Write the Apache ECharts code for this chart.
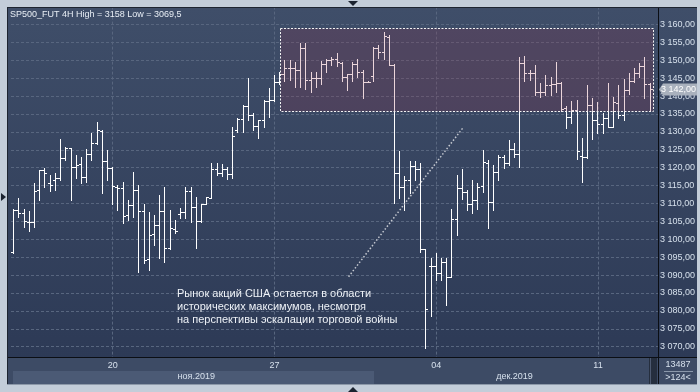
<!DOCTYPE html>
<html><head><meta charset="utf-8">
<script src="https://cdn.jsdelivr.net/npm/echarts@6/dist/echarts.min.js"></script>
<style>html,body{margin:0;padding:0;background:#c3cdd9;}#c{width:700px;height:392px;}</style>
</head><body><div id="c"></div>
<script>
// ---- data (4H bars, SP500 futures) ----
const opens  = [3096.5,3108.2,3107.4,3104.7,3104.9,3113.8,3119.4,3115.6,3116.6,3117.0,3122.6,3125.4,3120.3,3121.0,3117.5,3123.8,3126.8,3130.2,3121.9,3119.8,3114.7,3114.2,3106.8,3109.6,3113.8,3108.0,3094.4,3101.4,3104.0,3108.0,3097.5,3102.9,3107.2,3107.7,3113.5,3109.1,3105.1,3110.0,3111.6,3119.5,3118.4,3119.6,3118.3,3130.5,3133.5,3137.1,3134.7,3131.7,3133.3,3138.6,3138.9,3144.0,3146.3,3147.8,3147.8,3147.4,3153.3,3144.4,3145.0,3145.0,3148.9,3150.1,3150.3,3149.3,3145.3,3146.2,3149.0,3146.8,3144.0,3145.5,3153.3,3152.4,3156.6,3148.7,3118.4,3114.7,3116.6,3120.5,3119.5,3097.2,3092.5,3092.5,3090.5,3093.7,3089.6,3105.7,3114.2,3113.3,3109.9,3111.0,3115.0,3121.2,3110.5,3118.9,3123.1,3121.2,3125.1,3123.8,3149.2,3146.4,3146.4,3141.2,3141.2,3143.1,3143.3,3143.7,3136.6,3134.1,3136.1,3123.4,3123.1,3137.5,3133.3,3132.2,3133.8,3131.5,3138.2,3134.7,3141.7,3144.2,3146.4,3148.4,3143.3];
const highs  = [3108.4,3111.4,3108.6,3107.9,3115.6,3119.4,3119.8,3118.0,3118.4,3128.0,3125.7,3125.6,3123.5,3122.9,3125.1,3129.6,3132.8,3130.5,3124.9,3120.3,3115.2,3116.1,3111.0,3118.7,3115.2,3110.0,3107.7,3106.8,3112.4,3114.7,3108.2,3105.4,3108.8,3114.5,3114.7,3111.9,3110.0,3111.9,3121.2,3121.2,3121.0,3120.3,3131.4,3133.8,3137.5,3145.0,3135.2,3133.3,3138.9,3142.2,3145.9,3146.8,3150.0,3150.2,3149.6,3154.9,3154.9,3146.8,3146.8,3149.7,3150.4,3151.0,3152.0,3149.6,3146.3,3149.6,3150.3,3147.3,3144.3,3153.8,3154.2,3158.0,3157.0,3148.9,3124.7,3117.7,3121.9,3121.9,3121.2,3097.3,3094.7,3096.1,3094.7,3094.7,3108.6,3118.1,3119.5,3113.8,3116.6,3115.6,3124.9,3122.1,3120.8,3123.5,3123.5,3127.7,3126.8,3151.0,3151.2,3147.3,3148.7,3143.6,3145.9,3145.4,3149.6,3144.0,3137.1,3138.6,3138.9,3128.2,3143.1,3139.4,3138.4,3135.2,3143.6,3139.8,3143.1,3144.7,3146.4,3147.8,3149.3,3151.0,3143.6];
const lows   = [3096.1,3106.3,3103.5,3102.3,3103.5,3111.0,3114.7,3113.6,3113.8,3116.6,3122.1,3111.0,3117.0,3115.8,3116.1,3122.1,3126.6,3112.8,3116.6,3110.0,3108.2,3104.5,3105.4,3106.3,3091.0,3093.3,3091.4,3098.4,3094.7,3093.7,3097.3,3101.7,3105.9,3105.9,3104.9,3097.5,3104.9,3109.9,3111.4,3118.0,3117.8,3116.8,3117.0,3130.1,3130.1,3133.3,3130.5,3128.2,3131.5,3134.3,3138.7,3143.5,3144.2,3144.5,3142.5,3142.5,3142.0,3141.1,3142.6,3143.4,3146.6,3148.7,3148.5,3144.2,3141.7,3144.2,3145.4,3139.6,3143.8,3144.3,3150.6,3150.3,3148.7,3110.2,3111.4,3108.1,3113.0,3116.6,3096.5,3069.5,3078.5,3088.6,3088.6,3081.6,3089.4,3101.2,3111.3,3108.2,3107.3,3108.6,3113.3,3103.1,3108.2,3116.6,3119.8,3120.8,3122.9,3120.3,3144.3,3144.5,3140.3,3139.7,3140.3,3140.3,3141.2,3135.7,3131.0,3132.4,3122.3,3116.1,3122.6,3127.9,3129.6,3129.6,3131.3,3131.3,3133.8,3133.3,3140.5,3143.8,3145.4,3139.5,3136.0];
const closes = [3108.2,3107.4,3105.0,3104.7,3113.5,3119.4,3118.4,3115.2,3117.0,3122.6,3125.4,3120.3,3120.8,3117.5,3123.8,3126.8,3130.5,3121.9,3119.8,3114.9,3114.2,3106.6,3109.6,3113.8,3108.0,3094.2,3101.2,3104.0,3108.0,3097.5,3103.1,3102.3,3107.7,3113.5,3109.1,3105.1,3109.8,3111.9,3119.5,3118.4,3119.6,3118.3,3128.9,3133.5,3137.1,3134.7,3131.7,3133.3,3138.6,3138.9,3144.0,3146.3,3147.8,3147.8,3147.4,3153.3,3144.4,3145.0,3145.0,3148.9,3150.1,3150.3,3149.5,3145.3,3146.2,3149.1,3146.6,3144.0,3144.0,3153.3,3152.4,3156.8,3148.7,3118.4,3114.7,3116.6,3120.5,3119.5,3097.3,3080.4,3092.5,3090.5,3093.7,3089.6,3105.7,3114.2,3113.3,3109.9,3111.0,3114.5,3121.5,3110.5,3118.9,3123.1,3121.2,3125.1,3123.8,3149.2,3146.4,3146.4,3141.2,3141.2,3143.1,3143.3,3143.7,3136.3,3134.1,3136.1,3124.7,3123.1,3137.5,3133.3,3132.2,3133.8,3131.5,3138.4,3134.7,3141.7,3144.2,3146.4,3148.4,3143.5,3142.0];
const slotCount = 124;                       // visible bar slots (">124<")
const dateTickIndex = [19, 50, 81, 112];
const dateTickLabel = ['20', '27', '04', '11'];
const monthIndex = [35, 96];
const monthLabel = ['ноя.2019', 'дек.2019'];
const yMin = 3065, yMax = 3165, yStep = 5;
const boxX = [51, 122.4], boxY = [3159.1, 3135.8];     // highlighted range
const trendX = [64.2, 86.2], trendY = [3089.55, 3131.3]; // dotted trend line
const titleText = 'SP500_FUT 4H High = 3158 Low = 3069,5';
const noteText = 'Рынок акций США остается в области\nисторических максимумов, несмотря\nна перспективы эскалации торговой войны';
const barCountText = '13487', visibleText = '>124<';

const categories = Array.from({length: slotCount}, (_, i) => String(i));
const ohlc = opens.map((o, i) => [i, o, highs[i], lows[i], closes[i]]);
const FONT = '"Liberation Sans", Arial, sans-serif';
const LBL = '#d6e0ec';
const LIGHT = '#c3cdd9';

function fmtPrice(v) {
  const s = v.toFixed(2).split('.');
  return s[0].replace(/\B(?=(\d{3})+(?!\d))/g, ' ') + ',' + s[1];
}
function px(api, xv, yv) {
  const k = Math.floor(xv);
  const p = api.coord([k, yv]);
  return [p[0] + (xv - k) * api.size([1, 0])[0], p[1]];
}
const isDate = (idx) => dateTickIndex.indexOf(idx) >= 0;
const isMonth = (idx) => monthIndex.indexOf(idx) >= 0;

const chart = echarts.init(document.getElementById('c'), null, {renderer: 'canvas'});
const grad = new echarts.graphic.LinearGradient(0, 0, 0, 1, [
  {offset: 0, color: '#3f4e69'}, {offset: 1, color: '#2d3a56'}]);

const option = {
  animation: false,
  backgroundColor: LIGHT,
  grid: {left: 11, right: 42, top: 6.6, bottom: 27.4, containLabel: false, outerBoundsMode: 'none'},
  xAxis: [
    { type: 'category', data: categories, boundaryGap: true, z: 0,
      axisLine: {show: false}, axisLabel: {show: false},
      axisTick: {show: false, alignWithLabel: true, interval: isDate},
      splitLine: {show: true, alignWithLabel: true, interval: isDate,
        lineStyle: {color: '#58667f', type: [3, 2], width: 1}} },
    { type: 'category', data: categories, boundaryGap: true, position: 'bottom', offset: -7.6, z: 60,
      axisLine: {show: false, onZero: false}, axisTick: {show: false}, splitLine: {show: false},
      axisLabel: {show: true, interval: isDate, margin: 4, color: LBL, fontSize: 9, fontFamily: FONT,
        formatter: (v, idx) => dateTickLabel[dateTickIndex.indexOf(idx)] || ''} },
    { type: 'category', data: categories, boundaryGap: true, position: 'bottom', offset: -7.6, z: 60,
      axisLine: {show: false, onZero: false}, axisTick: {show: false}, splitLine: {show: false},
      axisLabel: {show: true, interval: isMonth, margin: 15, color: LBL, fontSize: 9, fontFamily: FONT,
        formatter: (v, idx) => monthLabel[monthIndex.indexOf(idx)] || ''} }
  ],
  yAxis: {
    type: 'value', position: 'right', min: yMin, max: yMax, interval: yStep, scale: true, z: 0,
    axisLine: {show: true, lineStyle: {color: '#0b0e14', width: 1}},
    axisTick: {show: false},
    axisLabel: {show: true, margin: 2, color: LBL, fontSize: 9, fontFamily: FONT,
      showMinLabel: false, showMaxLabel: false, formatter: fmtPrice},
    splitLine: {show: true, lineStyle: {color: '#58667f', type: [3, 2], width: 1}}
  },
  series: [
    { type: 'custom', name: 'SP500_FUT', z: 2, silent: true,
      encode: {x: 0, y: [1, 2, 3, 4]}, data: ohlc,
      renderItem: (params, api) => {
        const i = api.value(0);
        const pO = api.coord([i, api.value(1)]);
        const pH = api.coord([i, api.value(2)]);
        const pL = api.coord([i, api.value(3)]);
        const pC = api.coord([i, api.value(4)]);
        const x = Math.floor(pO[0]) + 0.5;
        const yH = Math.round(pH[1]), yL = Math.round(pL[1]);
        const yO = Math.round(pO[1]) + 0.5, yC = Math.round(pC[1]) + 0.5;
        const st = {stroke: '#ffffff', lineWidth: 1};
        return {type: 'group', children: [
          {type: 'line', shape: {x1: x, y1: yH, x2: x, y2: yL + 1}, style: st},
          {type: 'line', shape: {x1: x - 2.5, y1: yO, x2: x - 0.5, y2: yO}, style: st},
          {type: 'line', shape: {x1: x + 0.5, y1: yC, x2: x + 2.5, y2: yC}, style: st}
        ]};
      } },
    { type: 'custom', name: 'range', z: 3, silent: true,
      encode: {x: 0, y: 1}, data: [[boxX[0], boxY[0]]],
      renderItem: (params, api) => {
        const a = px(api, boxX[0], boxY[0]);
        const b = px(api, boxX[1], boxY[1]);
        return {type: 'rect',
          shape: {x: Math.round(a[0]) + 0.5, y: Math.round(a[1]) + 0.5,
                  width: Math.round(b[0] - a[0]), height: Math.round(b[1] - a[1])},
          style: {fill: 'rgba(155,45,72,0.2)', stroke: '#f4f4f4', lineWidth: 1, lineDash: [2, 1.5]}};
      } },
    { type: 'custom', name: 'trend', z: 4, silent: true,
      encode: {x: 0, y: 1}, data: [[Math.floor(trendX[0]), trendY[0]]],
      renderItem: (params, api) => {
        const a = px(api, trendX[0], trendY[0]);
        const b = px(api, trendX[1], trendY[1]);
        return {type: 'line', shape: {x1: a[0], y1: a[1], x2: b[0], y2: b[1]},
          style: {stroke: '#c4c8d0', lineWidth: 1.5, lineDash: [1.5, 2]}};
      } },
    { type: 'custom', name: 'last', z: 70, silent: true,
      encode: {x: 0, y: 1}, data: [[closes.length - 1, closes[closes.length - 1]]],
      renderItem: (params, api) => {
        const p = api.coord([api.value(0), api.value(1)]);
        const x0 = params.coordSys.x + params.coordSys.width;
        const y = Math.round(p[1]) + 0.5;
        return {type: 'group', children: [
          {type: 'polygon', shape: {points: [[x0 + 1, y], [x0 + 5, y - 6], [x0 + 39, y - 6], [x0 + 39, y + 6], [x0 + 5, y + 6]]},
            style: {fill: '#a9b1bd'}},
          {type: 'text', x: x0 + 3, y: y, style: {text: fmtPrice(api.value(1)), fill: '#ffffff',
            font: '9px ' + FONT, align: 'left', verticalAlign: 'middle', textAlign: 'left', textVerticalAlign: 'middle'}}
        ]};
      } }
  ],
  graphic: [
    {type: 'rect', z: -10, silent: true, shape: {x: 8, y: 8, width: 689, height: 349}, style: {fill: grad}},
    // outer light frame
    {type: 'rect', z: 50, silent: true, shape: {x: 0, y: 0, width: 700, height: 7}, style: {fill: LIGHT}},
    {type: 'rect', z: 50, silent: true, shape: {x: 0, y: 0, width: 7, height: 392}, style: {fill: LIGHT}},
    {type: 'rect', z: 50, silent: true, shape: {x: 697, y: 0, width: 3, height: 392}, style: {fill: LIGHT}},
    {type: 'rect', z: 50, silent: true, shape: {x: 0, y: 385, width: 700, height: 7}, style: {fill: LIGHT}},
    {type: 'rect', z: 51, silent: true, shape: {x: 7, y: 7, width: 690, height: 1}, style: {fill: '#1d2430'}},
    {type: 'rect', z: 51, silent: true, shape: {x: 7, y: 7, width: 1, height: 378}, style: {fill: '#1d2430'}},
    {type: 'rect', z: 51, silent: true, shape: {x: 7, y: 384, width: 690, height: 1}, style: {fill: '#8d99a9'}},
    // bottom panel
    {type: 'rect', z: 50, silent: true, shape: {x: 8, y: 357, width: 689, height: 27}, style: {fill: '#3d4b65'}},
    {type: 'rect', z: 51, silent: true, shape: {x: 13, y: 371, width: 361, height: 13}, style: {fill: '#4b5a75'}},
    {type: 'rect', z: 51, silent: true, shape: {x: 649, y: 358, width: 8, height: 26}, style: {fill: '#252e3e'}},
    {type: 'rect', z: 52, silent: true, shape: {x: 650, y: 358, width: 1, height: 26}, style: {fill: '#4d5970'}},
    {type: 'rect', z: 52, silent: true, shape: {x: 8, y: 357, width: 689, height: 1}, style: {fill: '#0b0e14'}},
    {type: 'rect', z: 52, silent: true, shape: {x: 658, y: 357, width: 1, height: 27}, style: {fill: '#0b0e14'}},
    {type: 'text', z: 53, silent: true, x: 678, y: 364.5, style: {text: barCountText, fill: LBL, font: '9px ' + FONT,
      align: 'center', verticalAlign: 'middle', textAlign: 'center', textVerticalAlign: 'middle'}},
    {type: 'rect', z: 53, silent: true, shape: {x: 664, y: 371, width: 29, height: 1}, style: {fill: '#8a97aa'}},
    {type: 'text', z: 53, silent: true, x: 678, y: 377.5, style: {text: visibleText, fill: LBL, font: '9px ' + FONT,
      align: 'center', verticalAlign: 'middle', textAlign: 'center', textVerticalAlign: 'middle'}},
    // frame arrows
    {type: 'polygon', z: 53, silent: true, shape: {points: [[348, 1], [358, 1], [353, 6]]}, style: {fill: '#1b2330'}},
    {type: 'polygon', z: 53, silent: true, shape: {points: [[348, 392], [358, 392], [353, 387]]}, style: {fill: '#1b2330'}},
    {type: 'polygon', z: 53, silent: true, shape: {points: [[1, 193], [1, 201], [6, 197]]}, style: {fill: '#1b2330'}},
    // title & note
    {type: 'text', z: 53, silent: true, x: 10, y: 15, style: {text: titleText, fill: '#e8eef5', font: '9px ' + FONT,
      align: 'left', verticalAlign: 'middle', textAlign: 'left', textVerticalAlign: 'middle'}},
    {type: 'text', z: 53, silent: true, x: 177, y: 287, style: {text: noteText, fill: '#eef2f7', font: '11px ' + FONT,
      lineHeight: 13, align: 'left', verticalAlign: 'top', textAlign: 'left', textVerticalAlign: 'top'}}
  ]
};
chart.setOption(option);
</script></body></html>
